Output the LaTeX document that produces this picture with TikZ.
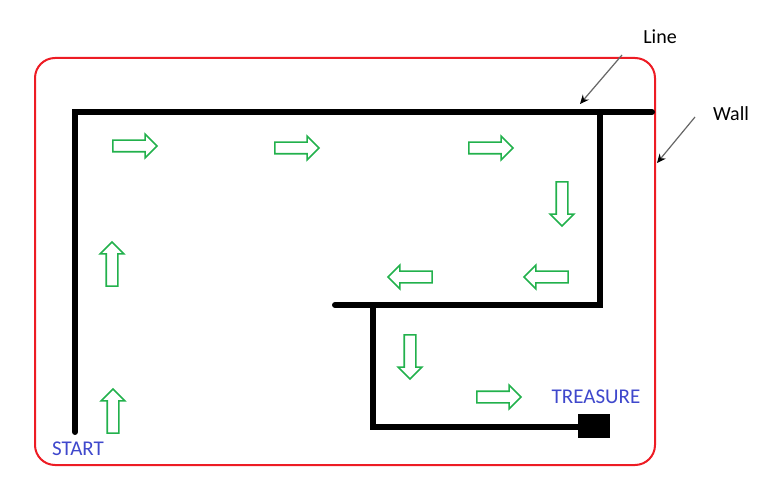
\documentclass[tikz,border=0pt]{standalone}
\usepackage{fontspec}
\setmainfont{Carlito}
\usetikzlibrary{arrows.meta,positioning,shapes.arrows}
\definecolor{wallred}{RGB}{237,28,36}
\definecolor{flowgreen}{RGB}{34,177,76}
\definecolor{tagblue}{RGB}{63,72,204}

\begin{document}
\begin{tikzpicture}[x=1pt, y=-1pt,
  wall/.style={draw=wallred, line width=2pt, rounded corners=20pt},
  track/.style={line width=6pt, line cap=round},
  flow/.style={single arrow, draw=flowgreen, line width=1.6pt, inner sep=0pt,
    inner ysep=5pt, single arrow head extend=6pt, minimum height=44pt},
  tag/.style={text=tagblue, font=\fontsize{21}{21}\selectfont},
  note/.style={font=\fontsize{20}{20}\selectfont},
  pointer/.style={draw=black!60, line width=1.2pt,
    -{Stealth[black, length=9pt, width=8pt]}},
]
\useasboundingbox (0,0) rectangle (764,492);

% outer wall
\draw[wall] (35,58) rectangle (655,465);

% the line to follow
\draw[track] (75,432) -- (75,112) -- (652,112);
\draw[track] (600,112) -- (600,305) -- (335,305);
\draw[track] (373,305) -- (373,427) -- (585,427);
\node[fill, inner sep=0pt, minimum width=32pt, minimum height=24pt] (chest) at (594,426) {};

% direction of travel
\node[flow, rotate=90] (up1) at (113,414) {};
\node[flow, rotate=90] (up2) at (112,267) {};
\node[flow] (right1) at (132,146) {};
\node[flow] (right2) at (294,148) {};
\node[flow] (right3) at (488,148) {};
\node[flow, rotate=-90] (down1) at (562,201) {};
\node[flow, rotate=180] (left1) at (549,277) {};
\node[flow, rotate=180] (left2) at (413,277) {};
\node[flow, rotate=-90] (down2) at (410,354) {};
\node[flow] (right4) at (496,397) {};

% labels
\node[tag] (start) at (78,449) {START};
\node[tag] (treasure) at (596,397) {TREASURE};
\node[note] (linelbl) at (660,37) {Line};
\node[note] (walllbl) at (731,114) {Wall};

\coordinate (linehit) at (580,104);
\coordinate (wallhit) at (657,163);
\coordinate (linefrom) at (622,55);
\coordinate (wallfrom) at (695,117);
\draw[pointer] (linefrom) -- (linehit);
\draw[pointer] (wallfrom) -- (wallhit);
\end{tikzpicture}
\end{document}
